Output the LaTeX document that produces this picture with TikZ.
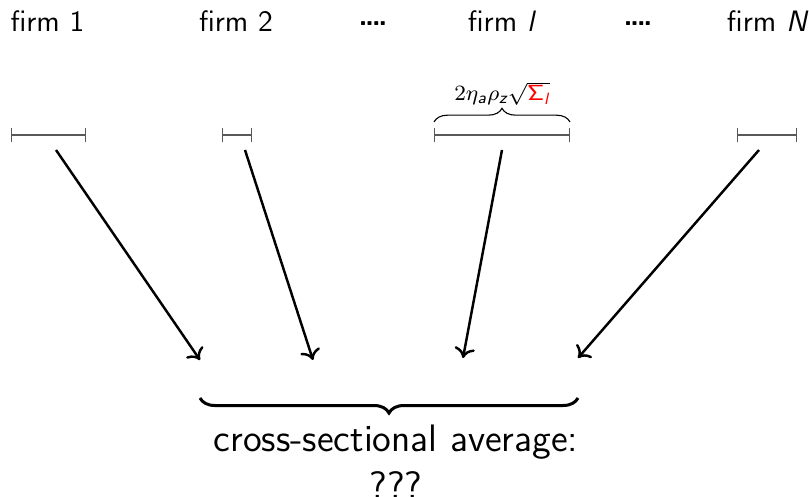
\documentclass[tikz,border=0pt]{standalone}
\usepackage{amsmath}
\usetikzlibrary{decorations.pathreplacing,arrows.meta}
\newcommand{\slsf}[1]{\text{\sffamily\slshape #1}}
\begin{document}
\begin{tikzpicture}[x=0.366pt,y=-0.366pt,
  firmlabel/.style={anchor=base,font=\sffamily\fontsize{10.8}{13}\selectfont,inner sep=0pt},
  dots/.style={anchor=base,font=\sffamily\bfseries\fontsize{10.8}{13}\selectfont,inner sep=0pt},
  interval/.style={draw=black!65,line width=0.45pt,{Bar[width=5pt]}-{Bar[width=5pt]}},
  flow/.style={draw=black,line width=0.9pt,-{To[length=3.8pt,width=7.5pt]}},
  smallbrace/.style={draw=black,line width=0.4pt,decorate,decoration={brace,amplitude=5pt}},
  bigbrace/.style={draw=black,line width=1.1pt,decorate,decoration={brace,amplitude=5.5pt,mirror}},
  bottomtext/.style={anchor=base,font=\sffamily\fontsize{14}{17}\selectfont,inner sep=0pt}]
\useasboundingbox (0,0) rectangle (809,497);
% labels
\node[firmlabel] (f1) at (47.5,32) {firm 1};
\node[firmlabel] (f2) at (236,32) {firm 2};
\node[dots] (d1) at (373,32) {\raisebox{0.45ex}{.\kern-0.9pt.\kern-0.9pt.\kern-0.9pt.}};
\node[firmlabel] (fl) at (501,32) {firm {\slshape l}};
\node[dots] (d2) at (638,32) {\raisebox{0.45ex}{.\kern-0.9pt.\kern-0.9pt.\kern-0.9pt.}};
\node[firmlabel] (fN) at (767,32) {firm {\slshape N}};
% intervals
\coordinate (a1) at (11,135); \coordinate (b1) at (86,135);
\coordinate (a2) at (222,135); \coordinate (b2) at (252,135);
\coordinate (al) at (434,135); \coordinate (bl) at (570,135);
\coordinate (aN) at (737,135); \coordinate (bN) at (797,135);
\draw[interval] (a1) -- (b1);
\draw[interval] (a2) -- (b2);
\draw[interval] (al) -- (bl);
\draw[interval] (aN) -- (bN);
% brace over firm l
\coordinate (sl) at (434,122); \coordinate (sr) at (570,122);
\draw[smallbrace] (sl) -- (sr) node[midway,above=6pt,font=\footnotesize,inner sep=0pt] (lab)
  {$2\eta_{\slsf{a}}\rho_{\slsf{z}}\sqrt{\color{red}\mathsf{\Sigma}_{\slsf{l}}}$};
% arrows
\coordinate (s1) at (56,150); \coordinate (e1) at (200,360);
\coordinate (s2) at (245,150); \coordinate (e2) at (313,360);
\coordinate (s3) at (502,150); \coordinate (e3) at (463,358);
\coordinate (s4) at (759,150); \coordinate (e4) at (578,358);
\draw[flow] (s1) -- (e1);
\draw[flow] (s2) -- (e2);
\draw[flow] (s3) -- (e3);
\draw[flow] (s4) -- (e4);
% big brace
\coordinate (bl0) at (200,398); \coordinate (br0) at (578,398);
\draw[bigbrace] (bl0) -- (br0);
\node[bottomtext] (avg) at (396,452) {cross-sectional average:};
\node[bottomtext] (q) at (396,499) {???};
\end{tikzpicture}
\end{document}
